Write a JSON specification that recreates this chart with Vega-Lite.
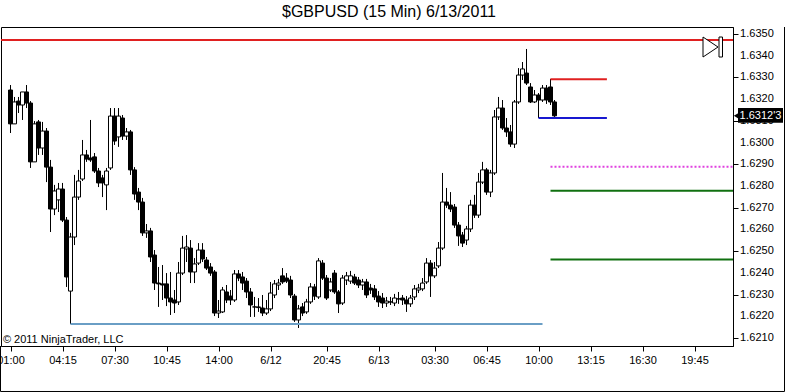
{
  "$schema": "https://vega.github.io/schema/vega-lite/v6.json",
  "width": 732,
  "height": 319,
  "autosize": {"type": "none"},
  "padding": {"left": 1, "top": 27, "right": 53, "bottom": 46},
  "background": "white",
  "title": {"text": "$GBPUSD (15 Min)  6/13/2011", "font": "Liberation Sans", "fontSize": 16, "fontWeight": "normal", "color": "black", "anchor": "middle", "dx": 22, "dy": 15, "offset": 9, "baseline": "alphabetic"},
  "config": {"view": {"stroke": "black", "strokeWidth": 1}, "font": "Liberation Sans", "axis": {"labelOverlap": false, "labelSeparation": 0}, "scale": {"continuousPadding": 0}},
  "datasets": {
    "bars": [
      {"i":0,"o":1.63242,"h":1.63265,"l":1.63044,"c":1.63086},
      {"i":1,"o":1.63086,"h":1.63210,"l":1.63086,"c":1.63187},
      {"i":2,"o":1.63191,"h":1.63210,"l":1.63136,"c":1.63173},
      {"i":3,"o":1.63173,"h":1.63233,"l":1.63104,"c":1.63233},
      {"i":4,"o":1.63233,"h":1.63265,"l":1.63159,"c":1.63182},
      {"i":5,"o":1.63182,"h":1.63191,"l":1.62883,"c":1.62911},
      {"i":6,"o":1.62911,"h":1.63099,"l":1.62911,"c":1.63086},
      {"i":7,"o":1.63095,"h":1.63104,"l":1.62943,"c":1.62975},
      {"i":8,"o":1.62975,"h":1.63095,"l":1.62943,"c":1.63053},
      {"i":9,"o":1.63053,"h":1.63067,"l":1.62818,"c":1.62887},
      {"i":10,"o":1.62887,"h":1.62920,"l":1.62588,"c":1.62694},
      {"i":11,"o":1.62694,"h":1.62805,"l":1.62666,"c":1.62777},
      {"i":12,"o":1.62736,"h":1.62814,"l":1.62680,"c":1.62786},
      {"i":13,"o":1.62786,"h":1.62814,"l":1.62634,"c":1.62643},
      {"i":14,"o":1.62643,"h":1.62657,"l":1.62335,"c":1.62381},
      {"i":15,"o":1.62316,"h":1.62584,"l":1.62164,"c":1.62565},
      {"i":16,"o":1.62565,"h":1.62851,"l":1.62528,"c":1.62749},
      {"i":17,"o":1.62749,"h":1.62874,"l":1.62736,"c":1.62823},
      {"i":18,"o":1.62832,"h":1.63012,"l":1.62823,"c":1.62943},
      {"i":19,"o":1.62943,"h":1.62966,"l":1.62911,"c":1.62924},
      {"i":20,"o":1.62929,"h":1.63104,"l":1.62911,"c":1.62920},
      {"i":21,"o":1.62934,"h":1.62952,"l":1.62860,"c":1.62869},
      {"i":22,"o":1.62869,"h":1.62883,"l":1.62795,"c":1.62814},
      {"i":23,"o":1.62837,"h":1.62851,"l":1.62749,"c":1.62814},
      {"i":24,"o":1.62805,"h":1.62883,"l":1.62689,"c":1.62869},
      {"i":25,"o":1.62883,"h":1.63159,"l":1.62874,"c":1.63122},
      {"i":26,"o":1.63122,"h":1.63159,"l":1.62989,"c":1.63007},
      {"i":27,"o":1.63026,"h":1.63159,"l":1.62980,"c":1.63122},
      {"i":28,"o":1.63113,"h":1.63127,"l":1.63012,"c":1.63030},
      {"i":29,"o":1.63030,"h":1.63067,"l":1.63012,"c":1.63049},
      {"i":30,"o":1.63049,"h":1.63058,"l":1.62851,"c":1.62874},
      {"i":31,"o":1.62874,"h":1.62887,"l":1.62736,"c":1.62763},
      {"i":32,"o":1.62772,"h":1.62791,"l":1.62689,"c":1.62726},
      {"i":33,"o":1.62726,"h":1.62745,"l":1.62570,"c":1.62584},
      {"i":34,"o":1.62584,"h":1.62625,"l":1.62561,"c":1.62593},
      {"i":35,"o":1.62593,"h":1.62607,"l":1.62450,"c":1.62473},
      {"i":36,"o":1.62482,"h":1.62505,"l":1.62321,"c":1.62353},
      {"i":37,"o":1.62353,"h":1.62427,"l":1.62243,"c":1.62349},
      {"i":38,"o":1.62349,"h":1.62436,"l":1.62275,"c":1.62344},
      {"i":39,"o":1.62349,"h":1.62399,"l":1.62247,"c":1.62284},
      {"i":40,"o":1.62284,"h":1.62404,"l":1.62206,"c":1.62266},
      {"i":41,"o":1.62275,"h":1.62321,"l":1.62215,"c":1.62261},
      {"i":42,"o":1.62266,"h":1.62450,"l":1.62252,"c":1.62399},
      {"i":43,"o":1.62399,"h":1.62570,"l":1.62390,"c":1.62514},
      {"i":44,"o":1.62510,"h":1.62574,"l":1.62450,"c":1.62519},
      {"i":45,"o":1.62514,"h":1.62551,"l":1.62353,"c":1.62404},
      {"i":46,"o":1.62404,"h":1.62468,"l":1.62353,"c":1.62441},
      {"i":47,"o":1.62445,"h":1.62537,"l":1.62436,"c":1.62505},
      {"i":48,"o":1.62505,"h":1.62537,"l":1.62450,"c":1.62464},
      {"i":49,"o":1.62459,"h":1.62473,"l":1.62413,"c":1.62422},
      {"i":50,"o":1.62427,"h":1.62445,"l":1.62386,"c":1.62399},
      {"i":51,"o":1.62404,"h":1.62413,"l":1.62201,"c":1.62215},
      {"i":52,"o":1.62215,"h":1.62275,"l":1.62192,"c":1.62224},
      {"i":53,"o":1.62220,"h":1.62335,"l":1.62215,"c":1.62321},
      {"i":54,"o":1.62312,"h":1.62344,"l":1.62261,"c":1.62275},
      {"i":55,"o":1.62293,"h":1.62321,"l":1.62252,"c":1.62275},
      {"i":56,"o":1.62275,"h":1.62413,"l":1.62266,"c":1.62395},
      {"i":57,"o":1.62395,"h":1.62413,"l":1.62362,"c":1.62376},
      {"i":58,"o":1.62381,"h":1.62404,"l":1.62321,"c":1.62353},
      {"i":59,"o":1.62362,"h":1.62376,"l":1.62284,"c":1.62312},
      {"i":60,"o":1.62312,"h":1.62330,"l":1.62197,"c":1.62252},
      {"i":61,"o":1.62243,"h":1.62289,"l":1.62197,"c":1.62243},
      {"i":62,"o":1.62243,"h":1.62284,"l":1.62220,"c":1.62240},
      {"i":63,"o":1.62238,"h":1.62298,"l":1.62201,"c":1.62215},
      {"i":64,"o":1.62215,"h":1.62275,"l":1.62206,"c":1.62234},
      {"i":65,"o":1.62234,"h":1.62358,"l":1.62224,"c":1.62307},
      {"i":66,"o":1.62298,"h":1.62367,"l":1.62284,"c":1.62349},
      {"i":67,"o":1.62344,"h":1.62372,"l":1.62321,"c":1.62353},
      {"i":68,"o":1.62386,"h":1.62422,"l":1.62349,"c":1.62358},
      {"i":69,"o":1.62376,"h":1.62399,"l":1.62353,"c":1.62362},
      {"i":70,"o":1.62367,"h":1.62386,"l":1.62284,"c":1.62298},
      {"i":71,"o":1.62293,"h":1.62303,"l":1.62174,"c":1.62183},
      {"i":72,"o":1.62183,"h":1.62252,"l":1.62146,"c":1.62234},
      {"i":73,"o":1.62243,"h":1.62261,"l":1.62201,"c":1.62215},
      {"i":74,"o":1.62220,"h":1.62280,"l":1.62211,"c":1.62266},
      {"i":75,"o":1.62266,"h":1.62353,"l":1.62257,"c":1.62335},
      {"i":76,"o":1.62335,"h":1.62349,"l":1.62275,"c":1.62293},
      {"i":77,"o":1.62289,"h":1.62468,"l":1.62280,"c":1.62455},
      {"i":78,"o":1.62445,"h":1.62459,"l":1.62367,"c":1.62376},
      {"i":79,"o":1.62376,"h":1.62390,"l":1.62275,"c":1.62284},
      {"i":80,"o":1.62321,"h":1.62376,"l":1.62312,"c":1.62358},
      {"i":81,"o":1.62399,"h":1.62413,"l":1.62303,"c":1.62312},
      {"i":82,"o":1.62312,"h":1.62321,"l":1.62215,"c":1.62257},
      {"i":83,"o":1.62261,"h":1.62390,"l":1.62252,"c":1.62376},
      {"i":84,"o":1.62367,"h":1.62404,"l":1.62344,"c":1.62386},
      {"i":85,"o":1.62362,"h":1.62409,"l":1.62349,"c":1.62386},
      {"i":86,"o":1.62381,"h":1.62395,"l":1.62344,"c":1.62353},
      {"i":87,"o":1.62367,"h":1.62381,"l":1.62330,"c":1.62344},
      {"i":88,"o":1.62344,"h":1.62372,"l":1.62321,"c":1.62358},
      {"i":89,"o":1.62358,"h":1.62372,"l":1.62284,"c":1.62298},
      {"i":90,"o":1.62330,"h":1.62349,"l":1.62303,"c":1.62321},
      {"i":91,"o":1.62326,"h":1.62344,"l":1.62275,"c":1.62289},
      {"i":92,"o":1.62293,"h":1.62316,"l":1.62243,"c":1.62266},
      {"i":93,"o":1.62284,"h":1.62307,"l":1.62238,"c":1.62261},
      {"i":94,"o":1.62261,"h":1.62289,"l":1.62243,"c":1.62270},
      {"i":95,"o":1.62266,"h":1.62289,"l":1.62252,"c":1.62266},
      {"i":96,"o":1.62261,"h":1.62303,"l":1.62247,"c":1.62284},
      {"i":97,"o":1.62280,"h":1.62312,"l":1.62257,"c":1.62280},
      {"i":98,"o":1.62284,"h":1.62298,"l":1.62252,"c":1.62275},
      {"i":99,"o":1.62275,"h":1.62293,"l":1.62220,"c":1.62257},
      {"i":100,"o":1.62257,"h":1.62298,"l":1.62243,"c":1.62284},
      {"i":101,"o":1.62289,"h":1.62344,"l":1.62275,"c":1.62326},
      {"i":102,"o":1.62321,"h":1.62349,"l":1.62307,"c":1.62330},
      {"i":103,"o":1.62326,"h":1.62376,"l":1.62316,"c":1.62353},
      {"i":104,"o":1.62358,"h":1.62468,"l":1.62349,"c":1.62445},
      {"i":105,"o":1.62445,"h":1.62459,"l":1.62289,"c":1.62386},
      {"i":106,"o":1.62386,"h":1.62450,"l":1.62376,"c":1.62422},
      {"i":107,"o":1.62432,"h":1.62542,"l":1.62422,"c":1.62514},
      {"i":108,"o":1.62514,"h":1.62860,"l":1.62505,"c":1.62726},
      {"i":109,"o":1.62726,"h":1.62791,"l":1.62699,"c":1.62712},
      {"i":110,"o":1.62712,"h":1.62772,"l":1.62680,"c":1.62694},
      {"i":111,"o":1.62703,"h":1.62717,"l":1.62607,"c":1.62620},
      {"i":112,"o":1.62620,"h":1.62634,"l":1.62524,"c":1.62570},
      {"i":113,"o":1.62574,"h":1.62588,"l":1.62519,"c":1.62537},
      {"i":114,"o":1.62551,"h":1.62616,"l":1.62528,"c":1.62602},
      {"i":115,"o":1.62602,"h":1.62736,"l":1.62588,"c":1.62712},
      {"i":116,"o":1.62712,"h":1.62759,"l":1.62653,"c":1.62666},
      {"i":117,"o":1.62666,"h":1.62860,"l":1.62653,"c":1.62818},
      {"i":118,"o":1.62818,"h":1.62911,"l":1.62809,"c":1.62874},
      {"i":119,"o":1.62874,"h":1.62883,"l":1.62759,"c":1.62772},
      {"i":120,"o":1.62772,"h":1.62874,"l":1.62749,"c":1.62860},
      {"i":121,"o":1.62860,"h":1.63150,"l":1.62851,"c":1.63118},
      {"i":122,"o":1.63118,"h":1.63210,"l":1.63104,"c":1.63159},
      {"i":123,"o":1.63159,"h":1.63196,"l":1.63058,"c":1.63067},
      {"i":124,"o":1.63067,"h":1.63113,"l":1.63026,"c":1.63049},
      {"i":125,"o":1.63049,"h":1.63081,"l":1.62980,"c":1.62993},
      {"i":126,"o":1.62993,"h":1.63196,"l":1.62975,"c":1.63187},
      {"i":127,"o":1.63187,"h":1.63343,"l":1.63178,"c":1.63311},
      {"i":128,"o":1.63311,"h":1.63371,"l":1.63288,"c":1.63339},
      {"i":129,"o":1.63320,"h":1.63431,"l":1.63265,"c":1.63274},
      {"i":130,"o":1.63256,"h":1.63274,"l":1.63182,"c":1.63187},
      {"i":131,"o":1.63187,"h":1.63242,"l":1.63182,"c":1.63219},
      {"i":132,"o":1.63219,"h":1.63228,"l":1.63113,"c":1.63196},
      {"i":133,"o":1.63196,"h":1.63265,"l":1.63187,"c":1.63251},
      {"i":134,"o":1.63251,"h":1.63265,"l":1.63178,"c":1.63196},
      {"i":135,"o":1.63256,"h":1.63293,"l":1.63173,"c":1.63187},
      {"i":136,"o":1.63187,"h":1.63196,"l":1.63118,"c":1.63123}
    ],
    "levels": [
      {"name":"upper","i":-2.375,"i2":180.625,"p":1.63472},
      {"name":"swing high","i":135,"i2":149.1,"p":1.63291},
      {"name":"swing low","i":132,"i2":149.1,"p":1.63113},
      {"name":"target 1","i":135,"i2":180.625,"p":1.62778},
      {"name":"target 2","i":135,"i2":180.625,"p":1.62461},
      {"name":"range low","i":15,"i2":133,"p":1.62164}
    ],
    "dotted": [
      {"name":"pivot","i":135,"i2":180.625,"p":1.62889}
    ],
    "ticks": [
      {"p":1.621,"t":"1.6210"},{"p":1.622,"t":"1.6220"},{"p":1.623,"t":"1.6230"},{"p":1.624,"t":"1.6240"},
      {"p":1.625,"t":"1.6250"},{"p":1.626,"t":"1.6260"},{"p":1.627,"t":"1.6270"},{"p":1.628,"t":"1.6280"},
      {"p":1.629,"t":"1.6290"},{"p":1.630,"t":"1.6300"},{"p":1.631,"t":"1.6310"},{"p":1.632,"t":"1.6320"},
      {"p":1.633,"t":"1.6330"},{"p":1.634,"t":"1.6340"},{"p":1.635,"t":"1.6350"}
    ],
    "last": [
      {"label":"1.6312'3","p":1.63123}
    ],
    "notes": [
      {"text":"© 2011 NinjaTrader, LLC"}
    ]
  },
  "layer": [
    {
      "data": {"name": "bars"},
      "mark": {"type": "rule", "color": "black", "strokeWidth": 1},
      "encoding": {
        "x": {"field": "i", "type": "quantitative", "title": null,
              "scale": {"domain": [-2.375, 180.625], "nice": false, "zero": false, "padding": 0},
              "axis": {"values": [0,13,26,39,52,65,79,92,106,119,132,145,158,171],
                       "labelExpr": "['01:00','04:15','07:30','10:45','14:00','6/12','20:45','6/13','03:30','06:45','10:00','13:15','16:30','19:45'][indexof([0,13,26,39,52,65,79,92,106,119,132,145,158,171], datum.value)]",
                       "grid": false, "title": null, "labelFont": "Liberation Sans", "labelFontSize": 11, "labelColor": "black",
                       "tickColor": "black", "domainColor": "black", "tickSize": 5, "labelPadding": 3, "labelFlush": false, "labelOverlap": false, "labelBound": false}},
        "y": {"field": "l", "type": "quantitative", "title": null,
              "scale": {"domain": [1.620631, 1.635322], "nice": false, "zero": false},
              "axis": {"orient": "right", "values": [1.621,1.622,1.623,1.624,1.625,1.626,1.627,1.628,1.629,1.630,1.631,1.632,1.633,1.634,1.635],
                       "labels": false, "grid": false, "title": null,
                       "tickColor": "black", "domainColor": "black", "tickSize": 5}},
        "y2": {"field": "h"}
      }
    },
    {
      "data": {"name": "levels"},
      "mark": {"type": "rule", "strokeWidth": 2},
      "encoding": {
        "x": {"field": "i", "type": "quantitative", "title": null, "scale": {"domain": [-2.375, 180.625], "nice": false, "zero": false, "padding": 0}},
        "x2": {"field": "i2"},
        "y": {"field": "p", "type": "quantitative", "title": null, "scale": {"domain": [1.620631, 1.635322], "nice": false, "zero": false}},
        "color": {"field": "name", "type": "nominal", "legend": null,
                  "scale": {"domain": ["upper","swing high","swing low","target 1","target 2","range low"],
                            "range": ["#e02020","#e02020","#1818d0","#107010","#107010","#6a9ec5"]}}
      }
    },
    {
      "data": {"name": "dotted"},
      "mark": {"type": "rule", "strokeWidth": 2, "strokeDash": [2, 2], "color": "#e040e0"},
      "encoding": {
        "x": {"field": "i", "type": "quantitative", "title": null, "scale": {"domain": [-2.375, 180.625], "nice": false, "zero": false, "padding": 0}},
        "x2": {"field": "i2"},
        "y": {"field": "p", "type": "quantitative", "title": null, "scale": {"domain": [1.620631, 1.635322], "nice": false, "zero": false}}
      }
    },
    {
      "data": {"name": "bars"},
      "mark": {"type": "bar", "size": 4, "stroke": "black", "strokeWidth": 1},
      "encoding": {
        "x": {"field": "i", "type": "quantitative", "title": null, "scale": {"domain": [-2.375, 180.625], "nice": false, "zero": false, "padding": 0}},
        "y": {"field": "o", "type": "quantitative", "title": null, "scale": {"domain": [1.620631, 1.635322], "nice": false, "zero": false}},
        "y2": {"field": "c"},
        "fill": {"condition": {"test": "datum.c >= datum.o", "value": "white"}, "value": "black"}
      }
    },
    {
      "data": {"name": "ticks"},
      "mark": {"type": "text", "align": "left", "baseline": "middle", "fontSize": 11, "font": "Liberation Sans", "color": "black"},
      "encoding": {
        "x": {"datum": 182.4, "type": "quantitative", "scale": {"domain": [-2.375, 180.625], "nice": false, "zero": false, "padding": 0}},
        "y": {"field": "p", "type": "quantitative", "title": null, "scale": {"domain": [1.620631, 1.635322], "nice": false, "zero": false}},
        "text": {"field": "t"}
      }
    },
    {
      "data": {"name": "notes"},
      "mark": {"type": "text", "align": "left", "baseline": "middle", "fontSize": 11, "font": "Liberation Sans", "color": "black"},
      "encoding": {
        "x": {"datum": -1.9, "type": "quantitative", "scale": {"domain": [-2.375, 180.625], "nice": false, "zero": false, "padding": 0}},
        "y": {"datum": 1.62091, "type": "quantitative", "scale": {"domain": [1.620631, 1.635322], "nice": false, "zero": false}},
        "text": {"field": "text"}
      }
    },
    {
      "data": {"name": "notes"},
      "mark": {"type": "point", "shape": "M-0.95,-1L0.55,0L-0.95,1ZM0.65,-1H1V1H0.65Z", "size": 400, "filled": true, "fill": "white", "stroke": "black", "strokeWidth": 1, "opacity": 1},
      "encoding": {
        "x": {"datum": 175.5, "type": "quantitative", "scale": {"domain": [-2.375, 180.625], "nice": false, "zero": false, "padding": 0}},
        "y": {"datum": 1.6344, "type": "quantitative", "scale": {"domain": [1.620631, 1.635322], "nice": false, "zero": false}}
      }
    },
    {
      "data": {"name": "notes"},
      "mark": {"type": "rule", "color": "black", "strokeWidth": 1},
      "encoding": {
        "x": {"datum": -2.5, "type": "quantitative", "scale": {"domain": [-2.375, 180.625], "nice": false, "zero": false, "padding": 0}},
        "y": {"datum": 1.620631, "type": "quantitative", "scale": {"domain": [1.620631, 1.635322], "nice": false, "zero": false}},
        "y2": {"datum": 1.618536}
      }
    },
    {
      "data": {"name": "notes"},
      "mark": {"type": "rule", "color": "black", "strokeWidth": 1},
      "encoding": {
        "x": {"datum": 193.5, "type": "quantitative", "scale": {"domain": [-2.375, 180.625], "nice": false, "zero": false, "padding": 0}},
        "y": {"datum": 1.635322, "type": "quantitative", "scale": {"domain": [1.620631, 1.635322], "nice": false, "zero": false}},
        "y2": {"datum": 1.618536}
      }
    },
    {
      "data": {"name": "notes"},
      "mark": {"type": "rule", "color": "black", "strokeWidth": 1},
      "encoding": {
        "x": {"datum": -2.5, "type": "quantitative", "scale": {"domain": [-2.375, 180.625], "nice": false, "zero": false, "padding": 0}},
        "x2": {"datum": 193.5},
        "y": {"datum": 1.618536, "type": "quantitative", "scale": {"domain": [1.620631, 1.635322], "nice": false, "zero": false}}
      }
    },
    {
      "data": {"name": "last"},
      "mark": {"type": "rect", "fill": "black"},
      "encoding": {
        "x": {"datum": 181.875, "type": "quantitative", "scale": {"domain": [-2.375, 180.625], "nice": false, "zero": false, "padding": 0}},
        "x2": {"datum": 193.125},
        "y": {"datum": 1.63159, "type": "quantitative", "scale": {"domain": [1.620631, 1.635322], "nice": false, "zero": false}},
        "y2": {"datum": 1.63091}
      }
    },
    {
      "data": {"name": "last"},
      "mark": {"type": "point", "shape": "triangle-left", "size": 50, "filled": true, "color": "black", "opacity": 1},
      "encoding": {
        "x": {"datum": 181.6, "type": "quantitative", "scale": {"domain": [-2.375, 180.625], "nice": false, "zero": false, "padding": 0}},
        "y": {"field": "p", "type": "quantitative", "scale": {"domain": [1.620631, 1.635322], "nice": false, "zero": false}}
      }
    },
    {
      "data": {"name": "last"},
      "mark": {"type": "text", "align": "center", "baseline": "middle", "fontSize": 11, "font": "Liberation Sans", "color": "white"},
      "encoding": {
        "x": {"datum": 187.5, "type": "quantitative", "scale": {"domain": [-2.375, 180.625], "nice": false, "zero": false, "padding": 0}},
        "y": {"field": "p", "type": "quantitative", "scale": {"domain": [1.620631, 1.635322], "nice": false, "zero": false}},
        "text": {"field": "label"}
      }
    }
  ]
}
